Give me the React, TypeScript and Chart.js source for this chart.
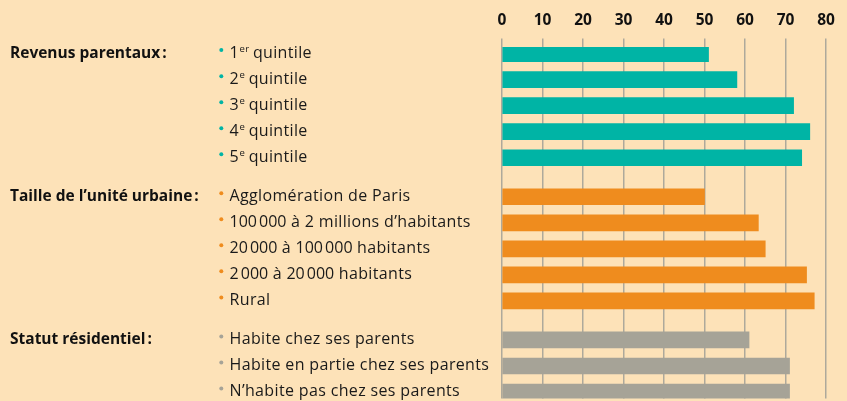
import React, { useEffect, useRef } from 'react';
import { Chart, registerables } from 'chart.js';

Chart.register(...registerables);

const groupTitles = ['Revenus parentaux\u202F:', 'Taille de l’unité urbaine\u202F:', 'Statut résidentiel\u202F:'];
const revenusLabels = ['1er quintile', '2e quintile', '3e quintile', '4e quintile', '5e quintile'];
const revenusValues = [51, 58, 72, 76, 74];
const tailleLabels = [
  'Agglomération de Paris',
  '100\u202F000 à 2 millions d’habitants',
  '20\u202F000 à 100\u202F000 habitants',
  '2\u202F000 à 20\u202F000 habitants',
  'Rural',
];
const tailleValues = [50, 63.3, 65, 75.2, 77.1];
const statutLabels = ['Habite chez ses parents', 'Habite en partie chez ses parents', 'N’habite pas chez ses parents'];
const statutValues = [61, 71, 71];
const groupColors = ['#00B4A5', '#EF8C1E', '#A6A397'];
const xMin = 0;
const xMax = 80;
const xStep = 10;

const BG = '#FDE2B8';
const FONT = '"Open Sans", Lato, sans-serif';
const FS = 16;
const FS_BOLD = 15.5;

type Slot = { label: string; value: number | null; color: string; group: number; first: boolean; item: boolean };

function buildSlots(): Slot[] {
  const groups = [
    { labels: revenusLabels, values: revenusValues },
    { labels: tailleLabels, values: tailleValues },
    { labels: statutLabels, values: statutValues },
  ];
  const slots: Slot[] = [];
  groups.forEach((g, gi) => {
    if (gi > 0) {
      slots.push({ label: '', value: null, color: 'transparent', group: gi, first: false, item: false });
      slots.push({ label: '', value: null, color: 'transparent', group: gi, first: false, item: false });
    }
    g.labels.forEach((lab, i) => {
      if (i > 0) slots.push({ label: '', value: null, color: 'transparent', group: gi, first: false, item: false });
      slots.push({ label: lab, value: g.values[i], color: groupColors[gi], group: gi, first: i === 0, item: true });
    });
  });
  return slots;
}

export default function App() {
  const ref = useRef<HTMLCanvasElement>(null);

  useEffect(() => {
    document.body.style.margin = '0';
    document.body.style.background = BG;
    const slots = buildSlots();
    const labelPlugin = {
      id: 'sideLabels',
      afterDraw(chart: any) {
        const ctx = chart.ctx as any;
        const y = chart.scales.y;
        ctx.save();
        slots.forEach((s, idx) => {
          if (!s.item) return;
          const py = y.getPixelForValue(idx);
          const base = py + 4;
          ctx.textAlign = 'left';
          ctx.textBaseline = 'alphabetic';
          if (s.first) {
            ctx.letterSpacing = '0px';
            ctx.font = `bold ${FS_BOLD}px ${FONT}`;
            ctx.fillStyle = '#111';
            ctx.fillText(groupTitles[s.group], 10, base);
          }
          ctx.beginPath();
          ctx.fillStyle = s.color;
          ctx.arc(221.3, py - 3.5, 2, 0, Math.PI * 2);
          ctx.fill();
          ctx.fillStyle = '#1a1a1a';
          ctx.letterSpacing = '0.35px';
          const m = s.label.match(/^(\d)(er|e) (.*)$/);
          let x = 229.5;
          if (m) {
            ctx.font = `${FS}px ${FONT}`;
            ctx.fillText(m[1], x, base);
            x += ctx.measureText(m[1]).width + 0.5;
            ctx.font = `9.5px ${FONT}`;
            ctx.fillText(m[2], x, base - 6);
            x += ctx.measureText(m[2]).width + 3.5;
            ctx.font = `${FS}px ${FONT}`;
            ctx.fillText(m[3], x, base);
          } else {
            ctx.font = `${FS}px ${FONT}`;
            ctx.fillText(s.label, x, base);
          }
        });
        ctx.restore();
      },
    };

    const chart = new Chart(ref.current!, {
      type: 'bar',
      data: {
        labels: slots.map((s) => s.label),
        datasets: [
          {
            data: slots.map((s) => s.value),
            backgroundColor: slots.map((s) => s.color),
            barThickness: 16,
            borderWidth: 0,
          },
        ],
      },
      options: {
        indexAxis: 'y',
        animation: false,
        responsive: false,
        layout: { padding: { left: 502, right: 21, top: 2, bottom: 2.5 } },
        plugins: { legend: { display: false }, tooltip: { enabled: false } },
        scales: {
          y: { display: false, offset: true },
          x: {
            position: 'top',
            min: xMin,
            max: xMax,
            ticks: {
              stepSize: xStep,
              color: '#111',
              font: { family: FONT, size: 15.5, weight: 'bold' },
              padding: 9,
            },
            grid: { color: '#AEA99B', lineWidth: 1.5, tickLength: 8.5, drawTicks: true },
            border: { display: false },
          },
        },
      },
      plugins: [labelPlugin],
    });
    return () => chart.destroy();
  }, []);

  return (
    <div style={{ width: 847, height: 401, background: BG }}>
      <canvas ref={ref} width={847} height={401} style={{ display: 'block' }} />
    </div>
  );
}
